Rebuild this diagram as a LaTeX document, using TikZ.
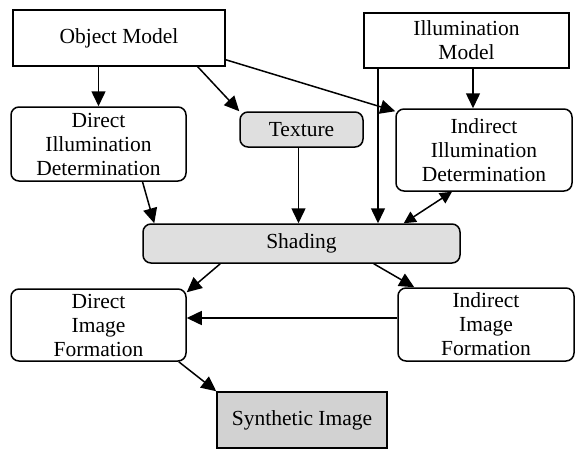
\documentclass[tikz,border=0pt]{standalone}
\usepackage{fontspec}
\setmainfont{Liberation Serif}
\usetikzlibrary{arrows.meta}

\begin{document}
\begin{tikzpicture}[x=1pt,y=-1pt,
		box/.style={draw=black, line width=1.5pt, align=center, inner sep=0pt, font=\fontsize{21.5}{24}\selectfont},
		rbox/.style={box, rounded corners=8pt},
		arr/.style={-{Triangle[length=15pt,width=14pt]}, line width=1.5pt},
		darr/.style={{Triangle[length=12pt,width=12pt]}-{Triangle[length=12pt,width=12pt]}, line width=1.5pt}]
		\useasboundingbox (0,0) rectangle (585,458);
		% square boxes
		\node[box, minimum width=212pt, minimum height=56pt] (objmodel) at (119,38) {Object Model};
		\node[box, minimum width=205pt, minimum height=55pt] (illummodel) at (466.5,40.5) {Illumination\\Model};
		\node[box, minimum width=170pt, minimum height=56pt, fill=gray!35] (synth) at (302,420) {Synthetic Image};
		% rounded boxes
		\node[rbox, minimum width=175pt, minimum height=74pt] (dirillum) at (98.5,144) {Direct\\Illumination\\Determination};
		\node[rbox, minimum width=176pt, minimum height=82pt] (indillum) at (484,150) {Indirect\\Illumination\\Determination};
		\node[rbox, minimum width=175pt, minimum height=72pt] (dirimage) at (98.5,325) {Direct\\Image\\Formation};
		\node[rbox, minimum width=176pt, minimum height=73pt] (indimage) at (486,324.5) {Indirect\\Image\\Formation};
		\node[rbox, minimum width=123pt, minimum height=35pt, fill=gray!25] (texture) at (301.5,129.5) {Texture};
		\node[rbox, minimum width=317pt, minimum height=39pt, fill=gray!25] (shading) at (301.5,243.5) {Shading};
		% connectors
		\draw[arr] (objmodel.south -| dirillum.north) -- (dirillum.north);
		\draw[arr] ([xshift=-28pt]objmodel.south east) -- (texture.north west);
		\draw[arr] ([yshift=7pt]objmodel.south east) -- ([yshift=-3pt]indillum.north west);
		\draw[arr] ([xshift=6.5pt]illummodel.south) -- ([xshift=6.5pt]illummodel.south |- indillum.north);
		\draw[arr] ([xshift=-88.5pt]illummodel.south) -- ([xshift=-88.5pt]illummodel.south |- shading.north);
		\draw[arr] ([xshift=-3pt]texture.south) -- ([xshift=-3pt]texture.south |- shading.north);
		\draw[arr] ([xshift=44pt]dirillum.south) -- ([xshift=12pt]shading.north west);
		\draw[darr] ([xshift=-32pt]indillum.south) -- ([xshift=-57pt]shading.north east);
		\draw[arr] ([xshift=78pt]shading.south west) -- ([yshift=-4pt]dirimage.north east);
		\draw[arr] ([xshift=-87pt]shading.south east) -- ([xshift=17pt]indimage.north west);
		\draw[arr] ([yshift=6.5pt]indimage.west) -- ([yshift=6.5pt]indimage.west -| dirimage.east);
		\draw[arr] ([xshift=-8pt]dirimage.south east) -- (synth.north west);
\end{tikzpicture}
\end{document}
